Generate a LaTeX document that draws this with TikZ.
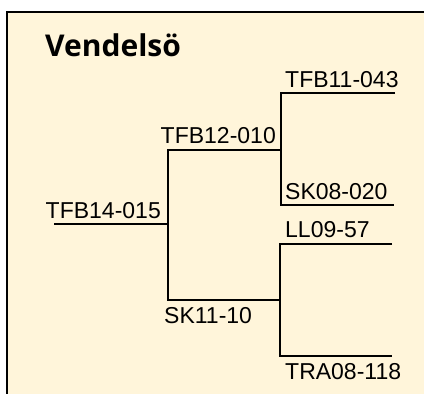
\documentclass[tikz,border=0pt]{standalone}
\usepackage{fontspec}
\setmainfont{Liberation Sans}
\newfontfamily\titlefont{Open Sans}
\definecolor{boxFill}{RGB}{255,245,218}

\begin{document}
\begin{tikzpicture}[x=1pt, y=-1pt,
    labelStyle/.style={inner sep=0pt, font=\fontsize{23}{27}\selectfont},
    branchStyle/.style={line width=1.5pt}]
    \useasboundingbox (0,0) rectangle (424,394);
    \fill[boxFill] (7,12) rectangle (430,400);
    \draw[line width=2pt] (7,400) -- (7,12) -- (430,12);

    \node[inner sep=0pt, anchor=base west, font=\titlefont\bfseries\fontsize{30}{36}\selectfont](title) at (45,56) {Vendelsö};

    % branch points
    \coordinate (root) at (54,224);
    \coordinate (rootJ) at (168,224);
    \coordinate (1T) at (168,150);
    \coordinate (1B) at (168,300);
    \coordinate (11) at (281,150);
    \coordinate (12) at (280,300);
    \coordinate (11T) at (281,93);
    \coordinate (11B) at (281,205);
    \coordinate (111) at (395,93);
    \coordinate (112) at (394,205);
    \coordinate (12T) at (280,244);
    \coordinate (12B) at (280,356);
    \coordinate (121) at (392,244);
    \coordinate (122) at (392,356);

    \node[labelStyle, anchor=base east](tfb14) at (161,218) {TFB14-015};
    \node[labelStyle, anchor=base east](tfb12) at (276,143) {TFB12-010};
    \node[labelStyle, anchor=base west](sk11) at (164,323) {SK11-10};
    \node[labelStyle, anchor=base west](tfb11) at (285,87) {TFB11-043};
    \node[labelStyle, anchor=base west](sk08) at (285,199) {SK08-020};
    \node[labelStyle, anchor=base west](ll09) at (285,237) {LL09-57};
    \node[labelStyle, anchor=base west](tra08) at (285,379) {TRA08-118};

    \draw[branchStyle] (root) -- (rootJ);
    \draw[branchStyle] (11) -- (1T) -- (1B) -- (12);
    \draw[branchStyle] (111) -- (11T) -- (11B) -- (112);
    \draw[branchStyle] (121) -- (12T) -- (12B) -- (122);
\end{tikzpicture}
\end{document}
